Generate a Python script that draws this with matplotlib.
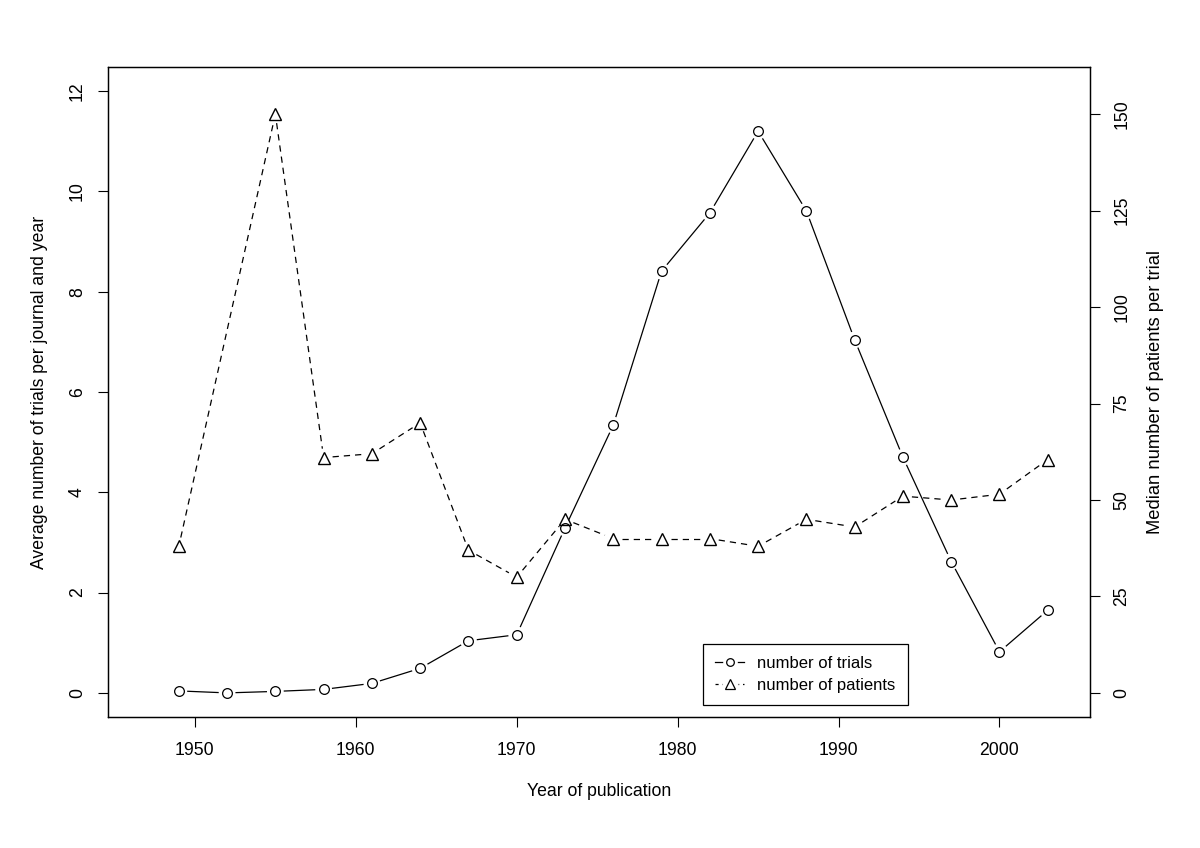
import numpy as np
import matplotlib; matplotlib.use('Agg')
import matplotlib.pyplot as plt
from matplotlib.lines import Line2D
from matplotlib.legend_handler import HandlerTuple

plt.rcParams['font.family'] = ['Liberation Sans', 'DejaVu Sans']

# data
years_trials = [1949, 1952, 1955, 1958, 1961, 1964, 1967, 1970, 1973, 1976,
                1979, 1982, 1985, 1988, 1991, 1994, 1997, 2000, 2003]
trials = [0.04, 0.0, 0.03, 0.07, 0.19, 0.49, 1.04, 1.16, 3.29, 5.34,
          8.41, 9.57, 11.2, 9.61, 7.04, 4.70, 2.62, 0.82, 1.65]
years_patients = [1949, 1955, 1958, 1961, 1964, 1967, 1970, 1973, 1976,
                  1979, 1982, 1985, 1988, 1991, 1994, 1997, 2000, 2003]
patients = [38, 150, 61, 62, 70, 37, 30, 45, 40, 40, 40, 38, 45, 43,
            51, 50, 51.5, 60.5]

xticks = [1950, 1960, 1970, 1980, 1990, 2000]
lticks = [0, 2, 4, 6, 8, 10, 12]
rticks = [0, 25, 50, 75, 100, 125, 150]

FS = 12.7
fig = plt.figure(figsize=(12, 8.48), dpi=100, facecolor='white')
ax = fig.add_axes([0.09, 0.1545, 0.818, 0.7665])
ax2 = ax.twinx()
ax.set_xlim(1944.6, 2005.6)
ax.set_ylim(-0.48, 12.48)
ax2.set_ylim(-6.24, 162.24)

def gapped(a, xs, ys, gap=9, **kw):
    # R type="b": segments stop short of each point
    tr = a.transData
    pts = tr.transform(np.column_stack([xs, ys]))
    inv = tr.inverted()
    for p, q in zip(pts[:-1], pts[1:]):
        d = q - p; L = np.hypot(*d)
        if L <= 2 * gap:
            continue
        u = d / L
        seg = inv.transform(np.array([p + u * gap, q - u * gap]))
        a.plot(seg[:, 0], seg[:, 1], color='black', lw=0.9, **kw)

gapped(ax, years_trials, trials)
ax.plot(years_trials, trials, ls='none', marker='o', ms=7, mfc='none', mec='black', mew=0.9)
gapped(ax2, years_patients, patients, dashes=(5, 4))
ax2.plot(years_patients, patients, ls='none', marker='^', ms=8.5, mfc='none', mec='black', mew=1.0)

for a in (ax, ax2):
    for s in a.spines.values():
        s.set_linewidth(0.9)
ax.set_xticks(xticks)
ax.set_yticks(lticks)
ax2.set_yticks(rticks)
ax.tick_params(axis='x', direction='out', length=7, width=0.8, labelsize=FS, pad=11)
ax.tick_params(axis='y', direction='out', length=7, width=0.8, labelsize=FS, pad=9, labelrotation=90)
for t in ax.get_yticklabels():
    t.set_va('center')
ax2.tick_params(axis='y', direction='out', length=7, width=0.8, labelsize=FS, pad=10, labelrotation=90)
for t in ax2.get_yticklabels():
    t.set_va('center')

ax.set_xlabel("Year of publication", fontsize=FS, labelpad=17)
ax.set_ylabel("Average number of trials per journal and year", fontsize=FS, labelpad=15)
ax2.set_ylabel("Median number of patients per trial", fontsize=FS + 0.5, labelpad=12)

# legend handles: line with a white gap around the marker, as in R
def handle(marker, ms, **lkw):
    ln = Line2D([], [], color='black', lw=0.9, **lkw)
    halo = Line2D([], [], ls='none', marker='o', ms=ms + 4, mfc='white', mec='white')
    mk = Line2D([], [], ls='none', marker=marker, ms=ms, mfc='none', mec='black', mew=0.9)
    return (ln, halo, mk)

handles = [handle('o', 5.5), handle('^', 6.5, dashes=(2.5, 3))]
leg = ax.legend(handles, ["number of trials", "number of patients"], loc='lower left',
                bbox_to_anchor=(0.606, 0.018), fontsize=12, frameon=True, fancybox=False,
                edgecolor='black', framealpha=1, borderpad=0.75, handlelength=1.7,
                handletextpad=0.8, labelspacing=0.4, borderaxespad=0,
                handler_map={tuple: HandlerTuple(ndivide=1, pad=0)})
leg.get_frame().set_linewidth(0.9)

fig.savefig("out.png", dpi=100, facecolor='white')
